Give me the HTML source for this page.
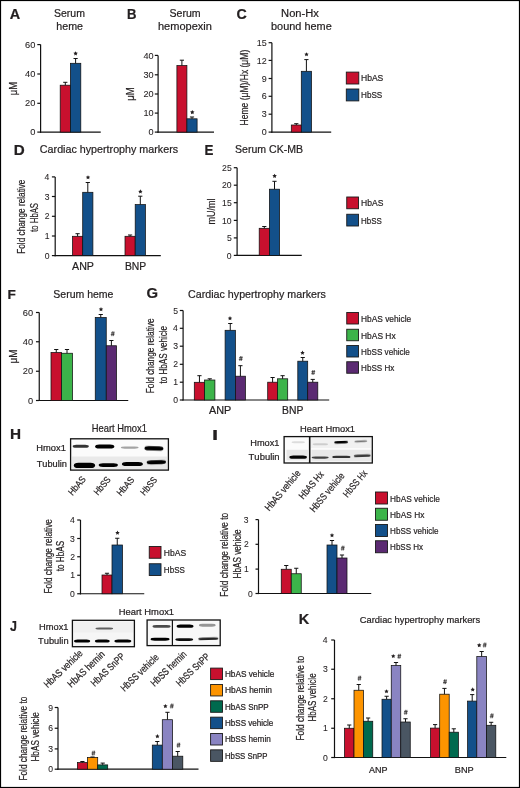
<!DOCTYPE html>
<html><head><meta charset="utf-8"><style>
html,body{margin:0;padding:0;background:#fff;overflow:hidden;width:520px;height:788px;}
svg{display:block;will-change:transform;}
text{font-family:"Liberation Sans", sans-serif;font-kerning:none;stroke:#231f20;stroke-width:0.22px;}
text.tk{stroke-width:0.08px;}
</style></head><body>
<svg width="520" height="788" viewBox="0 0 520 788">
<defs><filter id="bl" x="-30%" y="-100%" width="160%" height="300%"><feGaussianBlur stdDeviation="0.55"/></filter></defs>
<rect x="0" y="0" width="520" height="788" fill="#fff"/>
<text transform="translate(9.84,18.80)" font-size="13.81" font-weight="bold" fill="#231f20" textLength="10.44" lengthAdjust="spacingAndGlyphs">A</text>
<text transform="translate(54.02,17.00)" font-size="11.05" fill="#231f20" textLength="30.92" lengthAdjust="spacingAndGlyphs">Serum</text>
<text transform="translate(56.26,29.50)" font-size="11.38" fill="#231f20" textLength="26.72" lengthAdjust="spacingAndGlyphs">heme</text>
<line x1="40.60" y1="44.60" x2="40.60" y2="132.70" stroke="#111" stroke-width="1.2"/>
<line x1="40.00" y1="132.10" x2="100.75" y2="132.10" stroke="#111" stroke-width="1.2"/>
<line x1="37.30" y1="132.10" x2="40.60" y2="132.10" stroke="#111" stroke-width="1.2"/>
<text class="tk" transform="translate(30.20,135.24)" font-size="8.60" fill="#231f20" textLength="5.17" lengthAdjust="spacingAndGlyphs">0</text>
<line x1="37.30" y1="103.30" x2="40.60" y2="103.30" stroke="#111" stroke-width="1.2"/>
<text class="tk" transform="translate(25.03,106.44)" font-size="8.60" fill="#231f20" textLength="10.33" lengthAdjust="spacingAndGlyphs">20</text>
<line x1="37.30" y1="74.00" x2="40.60" y2="74.00" stroke="#111" stroke-width="1.2"/>
<text class="tk" transform="translate(25.03,77.14)" font-size="8.60" fill="#231f20" textLength="10.33" lengthAdjust="spacingAndGlyphs">40</text>
<line x1="37.30" y1="44.60" x2="40.60" y2="44.60" stroke="#111" stroke-width="1.2"/>
<text class="tk" transform="translate(25.03,47.74)" font-size="8.60" fill="#231f20" textLength="10.33" lengthAdjust="spacingAndGlyphs">60</text>
<rect x="60.20" y="85.20" width="10.20" height="46.90" fill="#c8102e" stroke="#111" stroke-width="0.75"/>
<line x1="65.30" y1="85.20" x2="65.30" y2="82.30" stroke="#111" stroke-width="1.0"/>
<line x1="63.20" y1="82.30" x2="67.40" y2="82.30" stroke="#111" stroke-width="1.0"/>
<rect x="70.40" y="63.30" width="10.40" height="68.80" fill="#13508a" stroke="#111" stroke-width="0.75"/>
<line x1="75.60" y1="63.30" x2="75.60" y2="58.50" stroke="#111" stroke-width="1.0"/>
<line x1="73.50" y1="58.50" x2="77.70" y2="58.50" stroke="#111" stroke-width="1.0"/>
<polygon points="75.60,51.25 76.28,52.62 77.79,52.84 76.69,53.91 76.95,55.41 75.60,54.70 74.25,55.41 74.51,53.91 73.41,52.84 74.92,52.62" fill="#231f20"/>
<text transform="translate(16.80,95.34) rotate(-90)" font-size="11.20" fill="#231f20" textLength="13.42" lengthAdjust="spacingAndGlyphs">μM</text>
<text transform="translate(127.02,18.80)" font-size="13.81" font-weight="bold" fill="#231f20" textLength="9.47" lengthAdjust="spacingAndGlyphs">B</text>
<text transform="translate(169.52,17.00)" font-size="11.05" fill="#231f20" textLength="31.18" lengthAdjust="spacingAndGlyphs">Serum</text>
<text transform="translate(157.98,29.50)" font-size="11.38" fill="#231f20" textLength="53.98" lengthAdjust="spacingAndGlyphs">hemopexin</text>
<line x1="158.10" y1="55.40" x2="158.10" y2="132.70" stroke="#111" stroke-width="1.2"/>
<line x1="157.50" y1="132.10" x2="214.00" y2="132.10" stroke="#111" stroke-width="1.2"/>
<line x1="154.80" y1="132.10" x2="158.10" y2="132.10" stroke="#111" stroke-width="1.2"/>
<text class="tk" transform="translate(148.59,135.24)" font-size="8.60" fill="#231f20" textLength="5.07" lengthAdjust="spacingAndGlyphs">0</text>
<line x1="154.80" y1="113.10" x2="158.10" y2="113.10" stroke="#111" stroke-width="1.2"/>
<text class="tk" transform="translate(143.52,116.24)" font-size="8.60" fill="#231f20" textLength="10.14" lengthAdjust="spacingAndGlyphs">10</text>
<line x1="154.80" y1="94.00" x2="158.10" y2="94.00" stroke="#111" stroke-width="1.2"/>
<text class="tk" transform="translate(143.52,97.14)" font-size="8.60" fill="#231f20" textLength="10.14" lengthAdjust="spacingAndGlyphs">20</text>
<line x1="154.80" y1="74.80" x2="158.10" y2="74.80" stroke="#111" stroke-width="1.2"/>
<text class="tk" transform="translate(143.52,77.94)" font-size="8.60" fill="#231f20" textLength="10.14" lengthAdjust="spacingAndGlyphs">30</text>
<line x1="154.80" y1="55.40" x2="158.10" y2="55.40" stroke="#111" stroke-width="1.2"/>
<text class="tk" transform="translate(143.52,58.54)" font-size="8.60" fill="#231f20" textLength="10.14" lengthAdjust="spacingAndGlyphs">40</text>
<rect x="176.90" y="65.60" width="10.00" height="66.50" fill="#c8102e" stroke="#111" stroke-width="0.75"/>
<line x1="181.90" y1="65.60" x2="181.90" y2="60.20" stroke="#111" stroke-width="1.0"/>
<line x1="179.80" y1="60.20" x2="184.00" y2="60.20" stroke="#111" stroke-width="1.0"/>
<rect x="186.90" y="118.80" width="10.20" height="13.30" fill="#13508a" stroke="#111" stroke-width="0.75"/>
<line x1="192.00" y1="118.80" x2="192.00" y2="117.00" stroke="#111" stroke-width="1.0"/>
<line x1="189.90" y1="117.00" x2="194.10" y2="117.00" stroke="#111" stroke-width="1.0"/>
<polygon points="192.30,110.00 192.98,111.37 194.49,111.59 193.39,112.66 193.65,114.16 192.30,113.45 190.95,114.16 191.21,112.66 190.11,111.59 191.62,111.37" fill="#231f20"/>
<text transform="translate(133.70,100.75) rotate(-90)" font-size="11.20" fill="#231f20" textLength="13.54" lengthAdjust="spacingAndGlyphs">μM</text>
<text transform="translate(236.62,18.90)" font-size="14.10" font-weight="bold" fill="#231f20" textLength="10.27" lengthAdjust="spacingAndGlyphs">C</text>
<text transform="translate(281.09,17.00)" font-size="11.05" fill="#231f20" textLength="37.78" lengthAdjust="spacingAndGlyphs">Non-Hx</text>
<text transform="translate(271.05,29.50)" font-size="11.38" fill="#231f20" textLength="60.69" lengthAdjust="spacingAndGlyphs">bound heme</text>
<line x1="271.90" y1="42.70" x2="271.90" y2="132.70" stroke="#111" stroke-width="1.2"/>
<line x1="271.30" y1="132.10" x2="331.20" y2="132.10" stroke="#111" stroke-width="1.2"/>
<line x1="268.60" y1="132.10" x2="271.90" y2="132.10" stroke="#111" stroke-width="1.2"/>
<text class="tk" transform="translate(261.68,135.24)" font-size="8.60" fill="#231f20" textLength="4.97" lengthAdjust="spacingAndGlyphs">0</text>
<line x1="268.60" y1="114.20" x2="271.90" y2="114.20" stroke="#111" stroke-width="1.2"/>
<text class="tk" transform="translate(261.72,117.34)" font-size="8.60" fill="#231f20" textLength="4.97" lengthAdjust="spacingAndGlyphs">3</text>
<line x1="268.60" y1="96.30" x2="271.90" y2="96.30" stroke="#111" stroke-width="1.2"/>
<text class="tk" transform="translate(261.72,99.44)" font-size="8.60" fill="#231f20" textLength="4.97" lengthAdjust="spacingAndGlyphs">6</text>
<line x1="268.60" y1="78.50" x2="271.90" y2="78.50" stroke="#111" stroke-width="1.2"/>
<text class="tk" transform="translate(261.75,81.64)" font-size="8.60" fill="#231f20" textLength="4.97" lengthAdjust="spacingAndGlyphs">9</text>
<line x1="268.60" y1="60.40" x2="271.90" y2="60.40" stroke="#111" stroke-width="1.2"/>
<text class="tk" transform="translate(256.80,63.54)" font-size="8.60" fill="#231f20" textLength="9.95" lengthAdjust="spacingAndGlyphs">12</text>
<line x1="268.60" y1="42.70" x2="271.90" y2="42.70" stroke="#111" stroke-width="1.2"/>
<text class="tk" transform="translate(256.73,45.84)" font-size="8.60" fill="#231f20" textLength="9.95" lengthAdjust="spacingAndGlyphs">15</text>
<rect x="291.30" y="125.00" width="10.00" height="7.10" fill="#c8102e" stroke="#111" stroke-width="0.75"/>
<line x1="296.30" y1="125.00" x2="296.30" y2="123.70" stroke="#111" stroke-width="1.0"/>
<line x1="294.20" y1="123.70" x2="298.40" y2="123.70" stroke="#111" stroke-width="1.0"/>
<rect x="301.30" y="71.30" width="10.20" height="60.80" fill="#13508a" stroke="#111" stroke-width="0.75"/>
<line x1="306.40" y1="71.30" x2="306.40" y2="59.60" stroke="#111" stroke-width="1.0"/>
<line x1="304.30" y1="59.60" x2="308.50" y2="59.60" stroke="#111" stroke-width="1.0"/>
<polygon points="306.50,52.15 307.18,53.52 308.69,53.74 307.59,54.81 307.85,56.31 306.50,55.60 305.15,56.31 305.41,54.81 304.31,53.74 305.82,53.52" fill="#231f20"/>
<text transform="translate(247.80,125.50) rotate(-90)" font-size="11.00" fill="#231f20" textLength="75.73" lengthAdjust="spacingAndGlyphs">Heme (μM)/Hx (μM)</text>
<rect x="346.30" y="72.10" width="12.50" height="11.90" fill="#c8102e" stroke="#1a1a1a" stroke-width="0.9"/>
<text transform="translate(361.00,81.20)" font-size="9.59" fill="#231f20" textLength="22.29" lengthAdjust="spacingAndGlyphs">HbAS</text>
<rect x="346.30" y="89.00" width="12.50" height="11.90" fill="#13508a" stroke="#1a1a1a" stroke-width="0.9"/>
<text transform="translate(361.03,98.10)" font-size="9.59" fill="#231f20" textLength="21.24" lengthAdjust="spacingAndGlyphs">HbSS</text>
<text transform="translate(13.79,154.60)" font-size="13.81" font-weight="bold" fill="#231f20" textLength="10.95" lengthAdjust="spacingAndGlyphs">D</text>
<text transform="translate(39.86,153.00)" font-size="11.34" fill="#231f20" textLength="138.23" lengthAdjust="spacingAndGlyphs">Cardiac hypertrophy markers</text>
<line x1="55.20" y1="176.90" x2="55.20" y2="256.20" stroke="#111" stroke-width="1.2"/>
<line x1="54.60" y1="255.60" x2="160.80" y2="255.60" stroke="#111" stroke-width="1.2"/>
<line x1="51.90" y1="255.60" x2="55.20" y2="255.60" stroke="#111" stroke-width="1.2"/>
<text class="tk" transform="translate(44.65,258.74)" font-size="8.60" fill="#231f20" textLength="4.78" lengthAdjust="spacingAndGlyphs">0</text>
<line x1="51.90" y1="236.00" x2="55.20" y2="236.00" stroke="#111" stroke-width="1.2"/>
<text class="tk" transform="translate(44.74,239.14)" font-size="8.60" fill="#231f20" textLength="4.78" lengthAdjust="spacingAndGlyphs">1</text>
<line x1="51.90" y1="216.30" x2="55.20" y2="216.30" stroke="#111" stroke-width="1.2"/>
<text class="tk" transform="translate(44.75,219.44)" font-size="8.60" fill="#231f20" textLength="4.78" lengthAdjust="spacingAndGlyphs">2</text>
<line x1="51.90" y1="196.50" x2="55.20" y2="196.50" stroke="#111" stroke-width="1.2"/>
<text class="tk" transform="translate(44.70,199.64)" font-size="8.60" fill="#231f20" textLength="4.78" lengthAdjust="spacingAndGlyphs">3</text>
<line x1="51.90" y1="176.90" x2="55.20" y2="176.90" stroke="#111" stroke-width="1.2"/>
<text class="tk" transform="translate(44.57,180.04)" font-size="8.60" fill="#231f20" textLength="4.78" lengthAdjust="spacingAndGlyphs">4</text>
<rect x="72.50" y="236.30" width="10.20" height="19.30" fill="#c8102e" stroke="#111" stroke-width="0.75"/>
<line x1="77.60" y1="236.30" x2="77.60" y2="233.70" stroke="#111" stroke-width="1.0"/>
<line x1="75.50" y1="233.70" x2="79.70" y2="233.70" stroke="#111" stroke-width="1.0"/>
<rect x="82.70" y="192.30" width="10.20" height="63.30" fill="#13508a" stroke="#111" stroke-width="0.75"/>
<line x1="87.80" y1="192.30" x2="87.80" y2="182.50" stroke="#111" stroke-width="1.0"/>
<line x1="85.70" y1="182.50" x2="89.90" y2="182.50" stroke="#111" stroke-width="1.0"/>
<polygon points="88.00,175.15 88.68,176.52 90.19,176.74 89.09,177.81 89.35,179.31 88.00,178.60 86.65,179.31 86.91,177.81 85.81,176.74 87.32,176.52" fill="#231f20"/>
<rect x="125.00" y="236.30" width="10.20" height="19.30" fill="#c8102e" stroke="#111" stroke-width="0.75"/>
<line x1="130.10" y1="236.30" x2="130.10" y2="235.00" stroke="#111" stroke-width="1.0"/>
<line x1="128.00" y1="235.00" x2="132.20" y2="235.00" stroke="#111" stroke-width="1.0"/>
<rect x="135.20" y="204.60" width="10.20" height="51.00" fill="#13508a" stroke="#111" stroke-width="0.75"/>
<line x1="140.30" y1="204.60" x2="140.30" y2="196.20" stroke="#111" stroke-width="1.0"/>
<line x1="138.20" y1="196.20" x2="142.40" y2="196.20" stroke="#111" stroke-width="1.0"/>
<polygon points="140.40,189.30 141.08,190.67 142.59,190.89 141.49,191.96 141.75,193.46 140.40,192.75 139.05,193.46 139.31,191.96 138.21,190.89 139.72,190.67" fill="#231f20"/>
<text transform="translate(72.03,269.80)" font-size="11.26" fill="#231f20" textLength="21.93" lengthAdjust="spacingAndGlyphs">ANP</text>
<text transform="translate(124.95,269.80)" font-size="11.26" fill="#231f20" textLength="21.30" lengthAdjust="spacingAndGlyphs">BNP</text>
<text transform="translate(25.00,253.78) rotate(-90)" font-size="11.20" fill="#231f20" textLength="74.24" lengthAdjust="spacingAndGlyphs">Fold change relative</text>
<text transform="translate(37.70,231.82) rotate(-90)" font-size="11.20" fill="#231f20" textLength="28.87" lengthAdjust="spacingAndGlyphs">to HbAS</text>
<text transform="translate(204.51,154.60)" font-size="13.81" font-weight="bold" fill="#231f20" textLength="8.92" lengthAdjust="spacingAndGlyphs">E</text>
<text transform="translate(235.02,153.00)" font-size="11.34" fill="#231f20" textLength="68.04" lengthAdjust="spacingAndGlyphs">Serum CK-MB</text>
<line x1="237.10" y1="167.70" x2="237.10" y2="256.00" stroke="#111" stroke-width="1.2"/>
<line x1="236.50" y1="255.40" x2="301.75" y2="255.40" stroke="#111" stroke-width="1.2"/>
<line x1="233.80" y1="255.40" x2="237.10" y2="255.40" stroke="#111" stroke-width="1.2"/>
<text class="tk" transform="translate(226.85,258.54)" font-size="8.60" fill="#231f20" textLength="4.78" lengthAdjust="spacingAndGlyphs">0</text>
<line x1="233.80" y1="237.90" x2="237.10" y2="237.90" stroke="#111" stroke-width="1.2"/>
<text class="tk" transform="translate(226.88,241.04)" font-size="8.60" fill="#231f20" textLength="4.78" lengthAdjust="spacingAndGlyphs">5</text>
<line x1="233.80" y1="220.40" x2="237.10" y2="220.40" stroke="#111" stroke-width="1.2"/>
<text class="tk" transform="translate(222.07,223.54)" font-size="8.60" fill="#231f20" textLength="9.57" lengthAdjust="spacingAndGlyphs">10</text>
<line x1="233.80" y1="202.70" x2="237.10" y2="202.70" stroke="#111" stroke-width="1.2"/>
<text class="tk" transform="translate(222.10,205.84)" font-size="8.60" fill="#231f20" textLength="9.57" lengthAdjust="spacingAndGlyphs">15</text>
<line x1="233.80" y1="185.20" x2="237.10" y2="185.20" stroke="#111" stroke-width="1.2"/>
<text class="tk" transform="translate(222.07,188.34)" font-size="8.60" fill="#231f20" textLength="9.57" lengthAdjust="spacingAndGlyphs">20</text>
<line x1="233.80" y1="167.70" x2="237.10" y2="167.70" stroke="#111" stroke-width="1.2"/>
<text class="tk" transform="translate(222.10,170.84)" font-size="8.60" fill="#231f20" textLength="9.57" lengthAdjust="spacingAndGlyphs">25</text>
<rect x="259.20" y="228.30" width="10.20" height="27.10" fill="#c8102e" stroke="#111" stroke-width="0.75"/>
<line x1="264.30" y1="228.30" x2="264.30" y2="226.50" stroke="#111" stroke-width="1.0"/>
<line x1="262.20" y1="226.50" x2="266.40" y2="226.50" stroke="#111" stroke-width="1.0"/>
<rect x="269.40" y="189.20" width="10.20" height="66.20" fill="#13508a" stroke="#111" stroke-width="0.75"/>
<line x1="274.50" y1="189.20" x2="274.50" y2="181.30" stroke="#111" stroke-width="1.0"/>
<line x1="272.40" y1="181.30" x2="276.60" y2="181.30" stroke="#111" stroke-width="1.0"/>
<polygon points="274.60,173.75 275.28,175.12 276.79,175.34 275.69,176.41 275.95,177.91 274.60,177.20 273.25,177.91 273.51,176.41 272.41,175.34 273.92,175.12" fill="#231f20"/>
<text transform="translate(214.90,224.50) rotate(-90)" font-size="11.30" fill="#231f20" textLength="26.10" lengthAdjust="spacingAndGlyphs">mU/ml</text>
<rect x="346.75" y="197.00" width="11.75" height="11.75" fill="#c8102e" stroke="#1a1a1a" stroke-width="0.9"/>
<text transform="translate(361.05,206.25)" font-size="9.81" fill="#231f20" textLength="22.34" lengthAdjust="spacingAndGlyphs">HbAS</text>
<rect x="346.75" y="214.25" width="11.75" height="11.75" fill="#13508a" stroke="#1a1a1a" stroke-width="0.9"/>
<text transform="translate(361.10,223.50)" font-size="9.81" fill="#231f20" textLength="20.77" lengthAdjust="spacingAndGlyphs">HbSS</text>
<text transform="translate(7.39,298.50)" font-size="13.66" font-weight="bold" fill="#231f20" textLength="8.31" lengthAdjust="spacingAndGlyphs">F</text>
<text transform="translate(53.27,298.25)" font-size="11.70" fill="#231f20" textLength="60.19" lengthAdjust="spacingAndGlyphs">Serum heme</text>
<line x1="39.25" y1="312.50" x2="39.25" y2="401.10" stroke="#111" stroke-width="1.2"/>
<line x1="38.65" y1="400.50" x2="128.25" y2="400.50" stroke="#111" stroke-width="1.2"/>
<line x1="35.95" y1="400.50" x2="39.25" y2="400.50" stroke="#111" stroke-width="1.2"/>
<text class="tk" transform="translate(28.00,403.64)" font-size="8.60" fill="#231f20" textLength="5.17" lengthAdjust="spacingAndGlyphs">0</text>
<line x1="35.95" y1="371.25" x2="39.25" y2="371.25" stroke="#111" stroke-width="1.2"/>
<text class="tk" transform="translate(22.83,374.39)" font-size="8.60" fill="#231f20" textLength="10.33" lengthAdjust="spacingAndGlyphs">20</text>
<line x1="35.95" y1="341.75" x2="39.25" y2="341.75" stroke="#111" stroke-width="1.2"/>
<text class="tk" transform="translate(22.83,344.89)" font-size="8.60" fill="#231f20" textLength="10.33" lengthAdjust="spacingAndGlyphs">40</text>
<line x1="35.95" y1="312.50" x2="39.25" y2="312.50" stroke="#111" stroke-width="1.2"/>
<text class="tk" transform="translate(22.83,315.64)" font-size="8.60" fill="#231f20" textLength="10.33" lengthAdjust="spacingAndGlyphs">60</text>
<rect x="51.00" y="352.50" width="10.50" height="48.00" fill="#c8102e" stroke="#111" stroke-width="0.75"/>
<line x1="56.25" y1="352.50" x2="56.25" y2="349.50" stroke="#111" stroke-width="1.0"/>
<line x1="54.15" y1="349.50" x2="58.35" y2="349.50" stroke="#111" stroke-width="1.0"/>
<rect x="61.50" y="353.25" width="11.00" height="47.25" fill="#3cb44a" stroke="#111" stroke-width="0.75"/>
<line x1="67.00" y1="353.25" x2="67.00" y2="349.50" stroke="#111" stroke-width="1.0"/>
<line x1="64.90" y1="349.50" x2="69.10" y2="349.50" stroke="#111" stroke-width="1.0"/>
<rect x="95.25" y="317.50" width="11.00" height="83.00" fill="#13508a" stroke="#111" stroke-width="0.75"/>
<line x1="100.75" y1="317.50" x2="100.75" y2="314.50" stroke="#111" stroke-width="1.0"/>
<line x1="98.65" y1="314.50" x2="102.85" y2="314.50" stroke="#111" stroke-width="1.0"/>
<rect x="106.25" y="345.75" width="10.25" height="54.75" fill="#5b2a72" stroke="#111" stroke-width="0.75"/>
<line x1="111.38" y1="345.75" x2="111.38" y2="340.50" stroke="#111" stroke-width="1.0"/>
<line x1="109.28" y1="340.50" x2="113.47" y2="340.50" stroke="#111" stroke-width="1.0"/>
<polygon points="101.00,307.02 101.68,308.39 103.19,308.61 102.09,309.68 102.35,311.19 101.00,310.47 99.65,311.19 99.91,309.68 98.81,308.61 100.32,308.39" fill="#231f20"/>
<path d="M111.75,336.15L112.42,331.35M113.23,336.15L113.90,331.35M111.03,332.93L114.73,332.93M110.77,334.61L114.47,334.61" stroke="#231f20" stroke-width="0.7" fill="none"/>
<text transform="translate(17.10,363.47) rotate(-90)" font-size="11.20" fill="#231f20" textLength="13.98" lengthAdjust="spacingAndGlyphs">μM</text>
<text transform="translate(146.49,297.90)" font-size="13.81" font-weight="bold" fill="#231f20" textLength="11.53" lengthAdjust="spacingAndGlyphs">G</text>
<text transform="translate(188.06,297.60)" font-size="11.34" fill="#231f20" textLength="137.83" lengthAdjust="spacingAndGlyphs">Cardiac hypertrophy markers</text>
<line x1="183.10" y1="310.50" x2="183.10" y2="400.60" stroke="#111" stroke-width="1.2"/>
<line x1="182.50" y1="400.00" x2="329.20" y2="400.00" stroke="#111" stroke-width="1.2"/>
<line x1="179.80" y1="400.00" x2="183.10" y2="400.00" stroke="#111" stroke-width="1.2"/>
<text class="tk" transform="translate(173.15,403.14)" font-size="8.60" fill="#231f20" textLength="4.78" lengthAdjust="spacingAndGlyphs">0</text>
<line x1="179.80" y1="382.20" x2="183.10" y2="382.20" stroke="#111" stroke-width="1.2"/>
<text class="tk" transform="translate(173.24,385.34)" font-size="8.60" fill="#231f20" textLength="4.78" lengthAdjust="spacingAndGlyphs">1</text>
<line x1="179.80" y1="364.30" x2="183.10" y2="364.30" stroke="#111" stroke-width="1.2"/>
<text class="tk" transform="translate(173.25,367.44)" font-size="8.60" fill="#231f20" textLength="4.78" lengthAdjust="spacingAndGlyphs">2</text>
<line x1="179.80" y1="346.20" x2="183.10" y2="346.20" stroke="#111" stroke-width="1.2"/>
<text class="tk" transform="translate(173.20,349.34)" font-size="8.60" fill="#231f20" textLength="4.78" lengthAdjust="spacingAndGlyphs">3</text>
<line x1="179.80" y1="328.30" x2="183.10" y2="328.30" stroke="#111" stroke-width="1.2"/>
<text class="tk" transform="translate(173.07,331.44)" font-size="8.60" fill="#231f20" textLength="4.78" lengthAdjust="spacingAndGlyphs">4</text>
<line x1="179.80" y1="310.50" x2="183.10" y2="310.50" stroke="#111" stroke-width="1.2"/>
<text class="tk" transform="translate(173.18,313.64)" font-size="8.60" fill="#231f20" textLength="4.78" lengthAdjust="spacingAndGlyphs">5</text>
<rect x="194.30" y="382.30" width="10.30" height="17.70" fill="#c8102e" stroke="#111" stroke-width="0.75"/>
<line x1="199.45" y1="382.30" x2="199.45" y2="375.70" stroke="#111" stroke-width="1.0"/>
<line x1="197.35" y1="375.70" x2="201.55" y2="375.70" stroke="#111" stroke-width="1.0"/>
<rect x="204.60" y="380.00" width="10.30" height="20.00" fill="#3cb44a" stroke="#111" stroke-width="0.75"/>
<line x1="209.75" y1="380.00" x2="209.75" y2="378.80" stroke="#111" stroke-width="1.0"/>
<line x1="207.65" y1="378.80" x2="211.85" y2="378.80" stroke="#111" stroke-width="1.0"/>
<rect x="225.10" y="330.30" width="10.30" height="69.70" fill="#13508a" stroke="#111" stroke-width="0.75"/>
<line x1="230.25" y1="330.30" x2="230.25" y2="323.50" stroke="#111" stroke-width="1.0"/>
<line x1="228.15" y1="323.50" x2="232.35" y2="323.50" stroke="#111" stroke-width="1.0"/>
<rect x="235.40" y="376.20" width="10.00" height="23.80" fill="#5b2a72" stroke="#111" stroke-width="0.75"/>
<line x1="240.40" y1="376.20" x2="240.40" y2="365.70" stroke="#111" stroke-width="1.0"/>
<line x1="238.30" y1="365.70" x2="242.50" y2="365.70" stroke="#111" stroke-width="1.0"/>
<polygon points="230.00,316.05 230.68,317.42 232.19,317.64 231.09,318.71 231.35,320.21 230.00,319.50 228.65,320.21 228.91,318.71 227.81,317.64 229.32,317.42" fill="#231f20"/>
<path d="M239.80,360.90L240.47,356.10M241.28,360.90L241.95,356.10M239.08,357.68L242.78,357.68M238.82,359.36L242.52,359.36" stroke="#231f20" stroke-width="0.7" fill="none"/>
<rect x="267.70" y="382.20" width="9.80" height="17.80" fill="#c8102e" stroke="#111" stroke-width="0.75"/>
<line x1="272.60" y1="382.20" x2="272.60" y2="377.50" stroke="#111" stroke-width="1.0"/>
<line x1="270.50" y1="377.50" x2="274.70" y2="377.50" stroke="#111" stroke-width="1.0"/>
<rect x="277.50" y="378.80" width="10.20" height="21.20" fill="#3cb44a" stroke="#111" stroke-width="0.75"/>
<line x1="282.60" y1="378.80" x2="282.60" y2="375.70" stroke="#111" stroke-width="1.0"/>
<line x1="280.50" y1="375.70" x2="284.70" y2="375.70" stroke="#111" stroke-width="1.0"/>
<rect x="297.80" y="361.20" width="9.90" height="38.80" fill="#13508a" stroke="#111" stroke-width="0.75"/>
<line x1="302.75" y1="361.20" x2="302.75" y2="357.50" stroke="#111" stroke-width="1.0"/>
<line x1="300.65" y1="357.50" x2="304.85" y2="357.50" stroke="#111" stroke-width="1.0"/>
<rect x="307.70" y="382.20" width="10.10" height="17.80" fill="#5b2a72" stroke="#111" stroke-width="0.75"/>
<line x1="312.75" y1="382.20" x2="312.75" y2="379.40" stroke="#111" stroke-width="1.0"/>
<line x1="310.65" y1="379.40" x2="314.85" y2="379.40" stroke="#111" stroke-width="1.0"/>
<polygon points="302.50,350.55 303.18,351.92 304.69,352.14 303.59,353.21 303.85,354.71 302.50,354.00 301.15,354.71 301.41,353.21 300.31,352.14 301.82,351.92" fill="#231f20"/>
<path d="M312.20,374.80L312.87,370.00M313.68,374.80L314.35,370.00M311.48,371.58L315.18,371.58M311.22,373.26L314.92,373.26" stroke="#231f20" stroke-width="0.7" fill="none"/>
<text transform="translate(208.98,414.10)" font-size="10.90" fill="#231f20" textLength="22.29" lengthAdjust="spacingAndGlyphs">ANP</text>
<text transform="translate(282.05,414.10)" font-size="10.90" fill="#231f20" textLength="21.30" lengthAdjust="spacingAndGlyphs">BNP</text>
<text transform="translate(153.80,393.28) rotate(-90)" font-size="11.20" fill="#231f20" textLength="74.90" lengthAdjust="spacingAndGlyphs">Fold change relative</text>
<text transform="translate(167.00,383.52) rotate(-90)" font-size="11.20" fill="#231f20" textLength="57.63" lengthAdjust="spacingAndGlyphs">to HbAS vehicle</text>
<rect x="346.75" y="312.50" width="11.75" height="11.50" fill="#c8102e" stroke="#1a1a1a" stroke-width="0.9"/>
<text transform="translate(361.07,322.00)" font-size="9.45" fill="#231f20" textLength="50.05" lengthAdjust="spacingAndGlyphs">HbAS vehicle</text>
<rect x="346.75" y="329.25" width="11.75" height="11.50" fill="#3cb44a" stroke="#1a1a1a" stroke-width="0.9"/>
<text transform="translate(361.06,338.75)" font-size="9.45" fill="#231f20" textLength="34.53" lengthAdjust="spacingAndGlyphs">HbAS Hx</text>
<rect x="346.75" y="345.50" width="11.75" height="11.50" fill="#13508a" stroke="#1a1a1a" stroke-width="0.9"/>
<text transform="translate(361.08,355.00)" font-size="9.45" fill="#231f20" textLength="48.78" lengthAdjust="spacingAndGlyphs">HbSS vehicle</text>
<rect x="346.75" y="361.75" width="11.75" height="11.50" fill="#5b2a72" stroke="#1a1a1a" stroke-width="0.9"/>
<text transform="translate(361.09,371.25)" font-size="9.45" fill="#231f20" textLength="33.25" lengthAdjust="spacingAndGlyphs">HbSS Hx</text>
<text transform="translate(9.88,438.70)" font-size="13.81" font-weight="bold" fill="#231f20" textLength="11.06" lengthAdjust="spacingAndGlyphs">H</text>
<text transform="translate(91.73,431.70)" font-size="10.03" fill="#231f20" textLength="55.12" lengthAdjust="spacingAndGlyphs">Heart Hmox1</text>
<text transform="translate(36.34,450.90)" font-size="8.72" fill="#231f20" textLength="29.52" lengthAdjust="spacingAndGlyphs">Hmox1</text>
<text transform="translate(36.69,467.10)" font-size="8.83" fill="#231f20" textLength="30.31" lengthAdjust="spacingAndGlyphs">Tubulin</text>
<rect x="70" y="438.5" width="98.7" height="32.1" fill="#fbfbfb"/>
<rect x="72" y="456.5" width="95" height="13" fill="#e9e9e9"/>
<rect x="72.70" y="444.75" width="16.10" height="3.00" rx="3.54" ry="1.50" fill="#000" fill-opacity="0.8" filter="url(#bl)"/>
<rect x="95.10" y="444.45" width="19.20" height="4.00" rx="4.22" ry="2.00" fill="#000" fill-opacity="1" filter="url(#bl)"/>
<rect x="120.80" y="446.45" width="17.80" height="2.30" rx="3.92" ry="1.15" fill="#000" fill-opacity="0.35" filter="url(#bl)"/>
<rect x="144.50" y="446.35" width="18.90" height="4.10" rx="4.16" ry="2.05" fill="#000" fill-opacity="1" filter="url(#bl)" transform="rotate(1.50 153.95 448.40)"/>
<rect x="73.80" y="462.85" width="21.30" height="5.10" rx="4.69" ry="2.55" fill="#000" fill-opacity="1" filter="url(#bl)"/>
<rect x="98.70" y="463.15" width="19.20" height="3.80" rx="4.22" ry="1.90" fill="#000" fill-opacity="1" filter="url(#bl)"/>
<rect x="121.90" y="461.95" width="21.00" height="4.10" rx="4.62" ry="2.05" fill="#000" fill-opacity="1" filter="url(#bl)"/>
<rect x="146.70" y="460.35" width="19.30" height="3.90" rx="4.25" ry="1.95" fill="#000" fill-opacity="1" filter="url(#bl)" transform="rotate(-1.50 156.35 462.30)"/>
<rect x="70.6" y="438.8" width="97.8" height="31.3" fill="none" stroke="#111" stroke-width="1.3"/>
<text transform="translate(72.51,496.12) rotate(-50)" font-size="9.40" fill="#231f20" textLength="21.57" lengthAdjust="spacingAndGlyphs">HbAS</text>
<text transform="translate(97.93,495.79) rotate(-50)" font-size="9.40" fill="#231f20" textLength="20.55" lengthAdjust="spacingAndGlyphs">HbSS</text>
<text transform="translate(121.01,496.62) rotate(-50)" font-size="9.40" fill="#231f20" textLength="21.51" lengthAdjust="spacingAndGlyphs">HbAS</text>
<text transform="translate(144.53,495.99) rotate(-50)" font-size="9.40" fill="#231f20" textLength="20.52" lengthAdjust="spacingAndGlyphs">HbSS</text>
<line x1="80.50" y1="520.00" x2="80.50" y2="594.35" stroke="#111" stroke-width="1.2"/>
<line x1="79.90" y1="593.75" x2="144.25" y2="593.75" stroke="#111" stroke-width="1.2"/>
<line x1="77.20" y1="593.75" x2="80.50" y2="593.75" stroke="#111" stroke-width="1.2"/>
<text class="tk" transform="translate(70.05,596.89)" font-size="8.60" fill="#231f20" textLength="4.78" lengthAdjust="spacingAndGlyphs">0</text>
<line x1="77.20" y1="575.25" x2="80.50" y2="575.25" stroke="#111" stroke-width="1.2"/>
<text class="tk" transform="translate(70.14,578.39)" font-size="8.60" fill="#231f20" textLength="4.78" lengthAdjust="spacingAndGlyphs">1</text>
<line x1="77.20" y1="556.75" x2="80.50" y2="556.75" stroke="#111" stroke-width="1.2"/>
<text class="tk" transform="translate(70.15,559.89)" font-size="8.60" fill="#231f20" textLength="4.78" lengthAdjust="spacingAndGlyphs">2</text>
<line x1="77.20" y1="538.50" x2="80.50" y2="538.50" stroke="#111" stroke-width="1.2"/>
<text class="tk" transform="translate(70.10,541.64)" font-size="8.60" fill="#231f20" textLength="4.78" lengthAdjust="spacingAndGlyphs">3</text>
<line x1="77.20" y1="520.00" x2="80.50" y2="520.00" stroke="#111" stroke-width="1.2"/>
<text class="tk" transform="translate(69.97,523.14)" font-size="8.60" fill="#231f20" textLength="4.78" lengthAdjust="spacingAndGlyphs">4</text>
<rect x="102.00" y="575.00" width="10.00" height="18.75" fill="#c8102e" stroke="#111" stroke-width="0.75"/>
<line x1="107.00" y1="575.00" x2="107.00" y2="573.25" stroke="#111" stroke-width="1.0"/>
<line x1="104.90" y1="573.25" x2="109.10" y2="573.25" stroke="#111" stroke-width="1.0"/>
<rect x="112.00" y="545.00" width="10.50" height="48.75" fill="#13508a" stroke="#111" stroke-width="0.75"/>
<line x1="117.25" y1="545.00" x2="117.25" y2="538.25" stroke="#111" stroke-width="1.0"/>
<line x1="115.15" y1="538.25" x2="119.35" y2="538.25" stroke="#111" stroke-width="1.0"/>
<polygon points="117.50,530.53 118.18,531.89 119.69,532.11 118.59,533.18 118.85,534.69 117.50,533.98 116.15,534.69 116.41,533.18 115.31,532.11 116.82,531.89" fill="#231f20"/>
<text transform="translate(51.70,593.48) rotate(-90)" font-size="11.20" fill="#231f20" textLength="74.34" lengthAdjust="spacingAndGlyphs">Fold change relative</text>
<text transform="translate(64.00,571.22) rotate(-90)" font-size="11.20" fill="#231f20" textLength="30.35" lengthAdjust="spacingAndGlyphs">to HbAS</text>
<rect x="149.25" y="546.50" width="11.75" height="11.75" fill="#c8102e" stroke="#1a1a1a" stroke-width="0.9"/>
<text transform="translate(163.80,555.75)" font-size="9.45" fill="#231f20" textLength="22.34" lengthAdjust="spacingAndGlyphs">HbAS</text>
<rect x="149.25" y="563.75" width="11.75" height="11.75" fill="#13508a" stroke="#1a1a1a" stroke-width="0.9"/>
<text transform="translate(163.84,573.00)" font-size="9.45" fill="#231f20" textLength="21.03" lengthAdjust="spacingAndGlyphs">HbSS</text>
<text transform="translate(212.01,439.60)" font-size="13.81" font-weight="bold" fill="#231f20" textLength="6.17" lengthAdjust="spacingAndGlyphs">I</text>
<text transform="translate(300.03,431.60)" font-size="9.88" fill="#231f20" textLength="55.02" lengthAdjust="spacingAndGlyphs">Heart Hmox1</text>
<text transform="translate(250.24,446.40)" font-size="9.45" fill="#231f20" textLength="29.21" lengthAdjust="spacingAndGlyphs">Hmox1</text>
<text transform="translate(248.59,459.60)" font-size="9.38" fill="#231f20" textLength="31.03" lengthAdjust="spacingAndGlyphs">Tubulin</text>
<rect x="283.5" y="436" width="89.2" height="27.3" fill="#fbfbfb"/>
<rect x="311" y="438" width="60" height="10" fill="#f1f1f1"/>
<rect x="286.5" y="449.8" width="21.4" height="10.6" fill="#e6e6e6"/>
<rect x="311.5" y="449.8" width="60" height="11.5" fill="#e8e8e8"/>
<rect x="291.50" y="441.35" width="13.50" height="1.90" rx="2.97" ry="0.95" fill="#000" fill-opacity="0.12" filter="url(#bl)"/>
<rect x="312.70" y="443.25" width="15.30" height="2.00" rx="3.37" ry="1.00" fill="#000" fill-opacity="0.15" filter="url(#bl)"/>
<rect x="334.10" y="441.00" width="14.00" height="2.60" rx="3.08" ry="1.30" fill="#000" fill-opacity="1" filter="url(#bl)" transform="rotate(-2.00 341.10 442.30)"/>
<rect x="354.30" y="440.40" width="13.00" height="1.90" rx="2.86" ry="0.95" fill="#000" fill-opacity="0.5" filter="url(#bl)" transform="rotate(-3.00 360.80 441.35)"/>
<rect x="289.40" y="455.60" width="17.50" height="3.10" rx="3.85" ry="1.55" fill="#000" fill-opacity="1" filter="url(#bl)"/>
<rect x="311.70" y="456.50" width="16.90" height="2.20" rx="3.72" ry="1.10" fill="#000" fill-opacity="0.72" filter="url(#bl)"/>
<rect x="332.20" y="455.70" width="18.30" height="2.40" rx="4.03" ry="1.20" fill="#000" fill-opacity="0.78" filter="url(#bl)"/>
<rect x="353.80" y="454.50" width="16.90" height="2.50" rx="3.72" ry="1.25" fill="#000" fill-opacity="0.75" filter="url(#bl)" transform="rotate(-2.00 362.25 455.75)"/>
<rect x="284.1" y="436.6" width="88.2" height="26.4" fill="none" stroke="#111" stroke-width="1.3"/>
<line x1="309.70" y1="436.60" x2="309.70" y2="463.00" stroke="#111" stroke-width="1.6"/>
<text transform="translate(269.32,511.52) rotate(-50)" font-size="9.80" fill="#231f20" textLength="49.58" lengthAdjust="spacingAndGlyphs">HbAS vehicle</text>
<text transform="translate(303.34,499.70) rotate(-50)" font-size="9.80" fill="#231f20" textLength="32.53" lengthAdjust="spacingAndGlyphs">HbAS Hx</text>
<text transform="translate(314.23,512.80) rotate(-50)" font-size="9.80" fill="#231f20" textLength="48.07" lengthAdjust="spacingAndGlyphs">HbSS vehicle</text>
<text transform="translate(347.45,497.88) rotate(-50)" font-size="9.80" fill="#231f20" textLength="31.65" lengthAdjust="spacingAndGlyphs">HbSS Hx</text>
<line x1="258.50" y1="519.60" x2="258.50" y2="594.10" stroke="#111" stroke-width="1.2"/>
<line x1="257.90" y1="593.50" x2="371.25" y2="593.50" stroke="#111" stroke-width="1.2"/>
<line x1="255.50" y1="593.50" x2="258.50" y2="593.50" stroke="#111" stroke-width="1.2"/>
<line x1="255.50" y1="569.10" x2="258.50" y2="569.10" stroke="#111" stroke-width="1.2"/>
<line x1="255.50" y1="544.30" x2="258.50" y2="544.30" stroke="#111" stroke-width="1.2"/>
<line x1="255.50" y1="519.60" x2="258.50" y2="519.60" stroke="#111" stroke-width="1.2"/>
<text class="tk" transform="translate(248.00,596.50)" font-size="8.50" fill="#231f20">0</text>
<text class="tk" transform="translate(243.89,572.10)" font-size="8.50" fill="#231f20">1</text>
<text class="tk" transform="translate(243.90,547.30)" font-size="8.50" fill="#231f20">2</text>
<text class="tk" transform="translate(243.85,522.60)" font-size="8.50" fill="#231f20">3</text>
<rect x="281.25" y="569.25" width="10.00" height="24.25" fill="#c8102e" stroke="#111" stroke-width="0.75"/>
<line x1="286.25" y1="569.25" x2="286.25" y2="565.50" stroke="#111" stroke-width="1.0"/>
<line x1="284.15" y1="565.50" x2="288.35" y2="565.50" stroke="#111" stroke-width="1.0"/>
<rect x="291.25" y="573.75" width="10.00" height="19.75" fill="#3cb44a" stroke="#111" stroke-width="0.75"/>
<line x1="296.25" y1="573.75" x2="296.25" y2="568.25" stroke="#111" stroke-width="1.0"/>
<line x1="294.15" y1="568.25" x2="298.35" y2="568.25" stroke="#111" stroke-width="1.0"/>
<rect x="327.00" y="545.00" width="10.00" height="48.50" fill="#13508a" stroke="#111" stroke-width="0.75"/>
<line x1="332.00" y1="545.00" x2="332.00" y2="540.50" stroke="#111" stroke-width="1.0"/>
<line x1="329.90" y1="540.50" x2="334.10" y2="540.50" stroke="#111" stroke-width="1.0"/>
<rect x="337.00" y="558.00" width="10.00" height="35.50" fill="#5b2a72" stroke="#111" stroke-width="0.75"/>
<line x1="342.00" y1="558.00" x2="342.00" y2="555.00" stroke="#111" stroke-width="1.0"/>
<line x1="339.90" y1="555.00" x2="344.10" y2="555.00" stroke="#111" stroke-width="1.0"/>
<polygon points="332.00,533.03 332.68,534.39 334.19,534.61 333.09,535.68 333.35,537.19 332.00,536.48 330.65,537.19 330.91,535.68 329.81,534.61 331.32,534.39" fill="#231f20"/>
<path d="M341.75,550.52L342.42,545.73M343.23,550.52L343.90,545.73M341.03,547.31L344.73,547.31M340.77,548.99L344.47,548.99" stroke="#231f20" stroke-width="0.7" fill="none"/>
<text transform="translate(227.80,596.68) rotate(-90)" font-size="11.20" fill="#231f20" textLength="83.83" lengthAdjust="spacingAndGlyphs">Fold change relative to</text>
<text transform="translate(240.90,578.47) rotate(-90)" font-size="11.20" fill="#231f20" textLength="49.14" lengthAdjust="spacingAndGlyphs">HbAS vehicle</text>
<rect x="375.50" y="492.00" width="12.00" height="12.00" fill="#c8102e" stroke="#1a1a1a" stroke-width="0.9"/>
<text transform="translate(390.07,501.50)" font-size="9.45" fill="#231f20" textLength="49.80" lengthAdjust="spacingAndGlyphs">HbAS vehicle</text>
<rect x="375.50" y="508.25" width="12.00" height="12.00" fill="#3cb44a" stroke="#1a1a1a" stroke-width="0.9"/>
<text transform="translate(390.07,517.75)" font-size="9.45" fill="#231f20" textLength="34.27" lengthAdjust="spacingAndGlyphs">HbAS Hx</text>
<rect x="375.50" y="524.50" width="12.00" height="12.00" fill="#13508a" stroke="#1a1a1a" stroke-width="0.9"/>
<text transform="translate(390.09,534.00)" font-size="9.45" fill="#231f20" textLength="48.52" lengthAdjust="spacingAndGlyphs">HbSS vehicle</text>
<rect x="375.50" y="540.75" width="12.00" height="12.00" fill="#5b2a72" stroke="#1a1a1a" stroke-width="0.9"/>
<text transform="translate(390.09,550.25)" font-size="9.45" fill="#231f20" textLength="32.99" lengthAdjust="spacingAndGlyphs">HbSS Hx</text>
<text transform="translate(10.01,630.80)" font-size="13.81" font-weight="bold" fill="#231f20" textLength="6.94" lengthAdjust="spacingAndGlyphs">J</text>
<text transform="translate(118.73,615.30)" font-size="9.45" fill="#231f20" textLength="55.33" lengthAdjust="spacingAndGlyphs">Heart Hmox1</text>
<text transform="translate(39.04,630.00)" font-size="9.30" fill="#231f20" textLength="29.42" lengthAdjust="spacingAndGlyphs">Hmox1</text>
<text transform="translate(38.09,643.70)" font-size="9.52" fill="#231f20" textLength="30.51" lengthAdjust="spacingAndGlyphs">Tubulin</text>
<rect x="72.1" y="619.9" width="62.4" height="26.8" fill="#f6f6f6"/>
<rect x="73.5" y="621.7" width="60" height="10.8" fill="#f0f0f0" filter="url(#bl)"/>
<rect x="95.50" y="627.40" width="17.60" height="2.10" rx="3.87" ry="1.05" fill="#000" fill-opacity="0.6" filter="url(#bl)"/>
<rect x="74.00" y="639.40" width="16.20" height="3.20" rx="3.56" ry="1.60" fill="#000" fill-opacity="1" filter="url(#bl)"/>
<rect x="94.90" y="639.40" width="14.80" height="3.20" rx="3.26" ry="1.60" fill="#000" fill-opacity="1" filter="url(#bl)"/>
<rect x="114.40" y="639.40" width="16.90" height="3.20" rx="3.72" ry="1.60" fill="#000" fill-opacity="1" filter="url(#bl)"/>
<rect x="72.4" y="620.3" width="62" height="26.4" fill="none" stroke="#111" stroke-width="1.3"/>
<rect x="146.5" y="619.4" width="74.3" height="26.7" fill="#f8f8f8"/>
<rect x="152.50" y="625.05" width="18.10" height="2.80" rx="3.98" ry="1.40" fill="#000" fill-opacity="0.7" filter="url(#bl)"/>
<rect x="176.60" y="624.55" width="16.90" height="3.30" rx="3.72" ry="1.65" fill="#000" fill-opacity="1" filter="url(#bl)"/>
<rect x="199.00" y="623.75" width="16.60" height="2.90" rx="3.65" ry="1.45" fill="#000" fill-opacity="0.4" filter="url(#bl)"/>
<rect x="150.60" y="637.80" width="18.90" height="2.90" rx="4.16" ry="1.45" fill="#000" fill-opacity="1" filter="url(#bl)"/>
<rect x="175.30" y="638.20" width="17.90" height="2.80" rx="3.94" ry="1.40" fill="#000" fill-opacity="0.95" filter="url(#bl)"/>
<rect x="198.20" y="637.40" width="20.20" height="2.60" rx="4.44" ry="1.30" fill="#000" fill-opacity="0.85" filter="url(#bl)" transform="rotate(-1.50 208.30 638.70)"/>
<rect x="147.1" y="620.0" width="73.1" height="25.6" fill="none" stroke="#111" stroke-width="1.3"/>
<line x1="172.40" y1="620.00" x2="172.40" y2="645.60" stroke="#111" stroke-width="1.2"/>
<text transform="translate(47.78,688.27) rotate(-44)" font-size="10.00" fill="#231f20" textLength="49.39" lengthAdjust="spacingAndGlyphs">HbAS vehicle</text>
<text transform="translate(71.36,687.98) rotate(-44)" font-size="10.00" fill="#231f20" textLength="47.40" lengthAdjust="spacingAndGlyphs">HbAS hemin</text>
<text transform="translate(94.70,686.95) rotate(-44)" font-size="10.00" fill="#231f20" textLength="42.79" lengthAdjust="spacingAndGlyphs">HbAS SnPP</text>
<text transform="translate(124.38,691.96) rotate(-44)" font-size="10.00" fill="#231f20" textLength="48.83" lengthAdjust="spacingAndGlyphs">HbSS vehicle</text>
<text transform="translate(154.38,686.96) rotate(-44)" font-size="10.00" fill="#231f20" textLength="45.80" lengthAdjust="spacingAndGlyphs">HbSS hemin</text>
<text transform="translate(179.90,686.95) rotate(-44)" font-size="10.00" fill="#231f20" textLength="42.65" lengthAdjust="spacingAndGlyphs">HbSS SnPP</text>
<line x1="58.00" y1="707.50" x2="58.00" y2="769.80" stroke="#111" stroke-width="1.2"/>
<line x1="57.40" y1="769.20" x2="198.50" y2="769.20" stroke="#111" stroke-width="1.2"/>
<line x1="54.70" y1="769.20" x2="58.00" y2="769.20" stroke="#111" stroke-width="1.2"/>
<text class="tk" transform="translate(48.15,772.34)" font-size="8.60" fill="#231f20" textLength="4.78" lengthAdjust="spacingAndGlyphs">0</text>
<line x1="54.70" y1="748.90" x2="58.00" y2="748.90" stroke="#111" stroke-width="1.2"/>
<text class="tk" transform="translate(48.20,752.04)" font-size="8.60" fill="#231f20" textLength="4.78" lengthAdjust="spacingAndGlyphs">3</text>
<line x1="54.70" y1="728.25" x2="58.00" y2="728.25" stroke="#111" stroke-width="1.2"/>
<text class="tk" transform="translate(48.20,731.39)" font-size="8.60" fill="#231f20" textLength="4.78" lengthAdjust="spacingAndGlyphs">6</text>
<line x1="54.70" y1="707.50" x2="58.00" y2="707.50" stroke="#111" stroke-width="1.2"/>
<text class="tk" transform="translate(48.22,710.64)" font-size="8.60" fill="#231f20" textLength="4.78" lengthAdjust="spacingAndGlyphs">9</text>
<rect x="77.40" y="762.60" width="10.00" height="6.60" fill="#c8102e" stroke="#111" stroke-width="0.75"/>
<line x1="82.40" y1="762.60" x2="82.40" y2="761.50" stroke="#111" stroke-width="1.0"/>
<line x1="80.30" y1="761.50" x2="84.50" y2="761.50" stroke="#111" stroke-width="1.0"/>
<rect x="87.40" y="757.40" width="10.30" height="11.80" fill="#fd9400" stroke="#111" stroke-width="0.75"/>
<line x1="92.55" y1="757.40" x2="92.55" y2="757.00" stroke="#111" stroke-width="1.0"/>
<line x1="90.45" y1="757.00" x2="94.65" y2="757.00" stroke="#111" stroke-width="1.0"/>
<rect x="97.70" y="764.90" width="10.00" height="4.30" fill="#006a4e" stroke="#111" stroke-width="0.75"/>
<line x1="102.70" y1="764.90" x2="102.70" y2="763.10" stroke="#111" stroke-width="1.0"/>
<line x1="100.60" y1="763.10" x2="104.80" y2="763.10" stroke="#111" stroke-width="1.0"/>
<rect x="152.30" y="745.10" width="10.00" height="24.10" fill="#13508a" stroke="#111" stroke-width="0.75"/>
<line x1="157.30" y1="745.10" x2="157.30" y2="741.50" stroke="#111" stroke-width="1.0"/>
<line x1="155.20" y1="741.50" x2="159.40" y2="741.50" stroke="#111" stroke-width="1.0"/>
<rect x="162.30" y="719.70" width="10.30" height="49.50" fill="#8a84c2" stroke="#111" stroke-width="0.75"/>
<line x1="167.45" y1="719.70" x2="167.45" y2="712.30" stroke="#111" stroke-width="1.0"/>
<line x1="165.35" y1="712.30" x2="169.55" y2="712.30" stroke="#111" stroke-width="1.0"/>
<rect x="172.60" y="756.20" width="10.20" height="13.00" fill="#4a5663" stroke="#111" stroke-width="0.75"/>
<line x1="177.70" y1="756.20" x2="177.70" y2="751.50" stroke="#111" stroke-width="1.0"/>
<line x1="175.60" y1="751.50" x2="179.80" y2="751.50" stroke="#111" stroke-width="1.0"/>
<path d="M92.40,755.50L93.07,750.70M93.88,755.50L94.55,750.70M91.68,752.28L95.38,752.28M91.42,753.96L95.12,753.96" stroke="#231f20" stroke-width="0.7" fill="none"/>
<polygon points="157.40,734.05 158.08,735.42 159.59,735.64 158.49,736.71 158.75,738.21 157.40,737.50 156.05,738.21 156.31,736.71 155.21,735.64 156.72,735.42" fill="#231f20"/>
<polygon points="165.40,703.95 166.08,705.32 167.59,705.54 166.49,706.61 166.75,708.11 165.40,707.40 164.05,708.11 164.31,706.61 163.21,705.54 164.72,705.32" fill="#231f20"/>
<path d="M170.80,708.40L171.47,703.60M172.28,708.40L172.95,703.60M170.08,705.18L173.78,705.18M169.82,706.86L173.52,706.86" stroke="#231f20" stroke-width="0.7" fill="none"/>
<path d="M177.50,747.50L178.17,742.70M178.98,747.50L179.65,742.70M176.78,744.28L180.48,744.28M176.52,745.96L180.22,745.96" stroke="#231f20" stroke-width="0.7" fill="none"/>
<text transform="translate(27.00,780.58) rotate(-90)" font-size="11.20" fill="#231f20" textLength="83.93" lengthAdjust="spacingAndGlyphs">Fold change relative to</text>
<text transform="translate(39.30,761.58) rotate(-90)" font-size="11.20" fill="#231f20" textLength="49.44" lengthAdjust="spacingAndGlyphs">HbAS vehicle</text>
<rect x="210.60" y="668.10" width="11.90" height="11.50" fill="#c8102e" stroke="#1a1a1a" stroke-width="0.9"/>
<text transform="translate(224.92,676.90)" font-size="8.28" fill="#231f20" textLength="49.44" lengthAdjust="spacingAndGlyphs">HbAS vehicle</text>
<rect x="210.60" y="684.45" width="11.90" height="11.50" fill="#fd9400" stroke="#1a1a1a" stroke-width="0.9"/>
<text transform="translate(224.91,693.25)" font-size="8.28" fill="#231f20" textLength="47.13" lengthAdjust="spacingAndGlyphs">HbAS hemin</text>
<rect x="210.60" y="700.80" width="11.90" height="11.50" fill="#006a4e" stroke="#1a1a1a" stroke-width="0.9"/>
<text transform="translate(224.94,709.60)" font-size="8.28" fill="#231f20" textLength="43.78" lengthAdjust="spacingAndGlyphs">HbAS SnPP</text>
<rect x="210.60" y="717.15" width="11.90" height="11.50" fill="#13508a" stroke="#1a1a1a" stroke-width="0.9"/>
<text transform="translate(224.94,725.95)" font-size="8.28" fill="#231f20" textLength="48.42" lengthAdjust="spacingAndGlyphs">HbSS vehicle</text>
<rect x="210.60" y="733.50" width="11.90" height="11.50" fill="#8a84c2" stroke="#1a1a1a" stroke-width="0.9"/>
<text transform="translate(224.93,742.30)" font-size="8.28" fill="#231f20" textLength="45.80" lengthAdjust="spacingAndGlyphs">HbSS hemin</text>
<rect x="210.60" y="749.85" width="11.90" height="11.50" fill="#4a5663" stroke="#1a1a1a" stroke-width="0.9"/>
<text transform="translate(224.96,758.65)" font-size="8.28" fill="#231f20" textLength="42.45" lengthAdjust="spacingAndGlyphs">HbSS SnPP</text>
<text transform="translate(298.73,624.20)" font-size="13.81" font-weight="bold" fill="#231f20" textLength="10.51" lengthAdjust="spacingAndGlyphs">K</text>
<text transform="translate(359.83,622.80)" font-size="9.74" fill="#231f20" textLength="120.31" lengthAdjust="spacingAndGlyphs">Cardiac hypertrophy markers</text>
<line x1="334.50" y1="640.00" x2="334.50" y2="758.10" stroke="#111" stroke-width="1.2"/>
<line x1="333.90" y1="757.50" x2="506.30" y2="757.50" stroke="#111" stroke-width="1.2"/>
<line x1="331.20" y1="757.50" x2="334.50" y2="757.50" stroke="#111" stroke-width="1.2"/>
<text class="tk" transform="translate(322.95,760.64)" font-size="8.60" fill="#231f20" textLength="4.78" lengthAdjust="spacingAndGlyphs">0</text>
<line x1="331.20" y1="728.25" x2="334.50" y2="728.25" stroke="#111" stroke-width="1.2"/>
<text class="tk" transform="translate(323.04,731.39)" font-size="8.60" fill="#231f20" textLength="4.78" lengthAdjust="spacingAndGlyphs">1</text>
<line x1="331.20" y1="698.75" x2="334.50" y2="698.75" stroke="#111" stroke-width="1.2"/>
<text class="tk" transform="translate(323.05,701.89)" font-size="8.60" fill="#231f20" textLength="4.78" lengthAdjust="spacingAndGlyphs">2</text>
<line x1="331.20" y1="669.25" x2="334.50" y2="669.25" stroke="#111" stroke-width="1.2"/>
<text class="tk" transform="translate(323.00,672.39)" font-size="8.60" fill="#231f20" textLength="4.78" lengthAdjust="spacingAndGlyphs">3</text>
<line x1="331.20" y1="640.00" x2="334.50" y2="640.00" stroke="#111" stroke-width="1.2"/>
<text class="tk" transform="translate(322.87,643.14)" font-size="8.60" fill="#231f20" textLength="4.78" lengthAdjust="spacingAndGlyphs">4</text>
<rect x="344.50" y="728.25" width="9.50" height="29.25" fill="#c8102e" stroke="#111" stroke-width="0.75"/>
<line x1="349.25" y1="728.25" x2="349.25" y2="725.00" stroke="#111" stroke-width="1.0"/>
<line x1="347.15" y1="725.00" x2="351.35" y2="725.00" stroke="#111" stroke-width="1.0"/>
<rect x="354.00" y="690.25" width="9.50" height="67.25" fill="#fd9400" stroke="#111" stroke-width="0.75"/>
<line x1="358.75" y1="690.25" x2="358.75" y2="684.50" stroke="#111" stroke-width="1.0"/>
<line x1="356.65" y1="684.50" x2="360.85" y2="684.50" stroke="#111" stroke-width="1.0"/>
<rect x="363.50" y="721.25" width="9.25" height="36.25" fill="#006a4e" stroke="#111" stroke-width="0.75"/>
<line x1="368.12" y1="721.25" x2="368.12" y2="718.00" stroke="#111" stroke-width="1.0"/>
<line x1="366.02" y1="718.00" x2="370.23" y2="718.00" stroke="#111" stroke-width="1.0"/>
<rect x="382.00" y="699.25" width="9.25" height="58.25" fill="#13508a" stroke="#111" stroke-width="0.75"/>
<line x1="386.62" y1="699.25" x2="386.62" y2="696.25" stroke="#111" stroke-width="1.0"/>
<line x1="384.52" y1="696.25" x2="388.73" y2="696.25" stroke="#111" stroke-width="1.0"/>
<rect x="391.25" y="665.50" width="9.50" height="92.00" fill="#8a84c2" stroke="#111" stroke-width="0.75"/>
<line x1="396.00" y1="665.50" x2="396.00" y2="662.50" stroke="#111" stroke-width="1.0"/>
<line x1="393.90" y1="662.50" x2="398.10" y2="662.50" stroke="#111" stroke-width="1.0"/>
<rect x="400.75" y="722.00" width="9.50" height="35.50" fill="#4a5663" stroke="#111" stroke-width="0.75"/>
<line x1="405.50" y1="722.00" x2="405.50" y2="718.75" stroke="#111" stroke-width="1.0"/>
<line x1="403.40" y1="718.75" x2="407.60" y2="718.75" stroke="#111" stroke-width="1.0"/>
<rect x="430.50" y="728.10" width="9.20" height="29.40" fill="#c8102e" stroke="#111" stroke-width="0.75"/>
<line x1="435.10" y1="728.10" x2="435.10" y2="724.60" stroke="#111" stroke-width="1.0"/>
<line x1="433.00" y1="724.60" x2="437.20" y2="724.60" stroke="#111" stroke-width="1.0"/>
<rect x="439.70" y="694.20" width="9.50" height="63.30" fill="#fd9400" stroke="#111" stroke-width="0.75"/>
<line x1="444.45" y1="694.20" x2="444.45" y2="688.40" stroke="#111" stroke-width="1.0"/>
<line x1="442.35" y1="688.40" x2="446.55" y2="688.40" stroke="#111" stroke-width="1.0"/>
<rect x="449.20" y="732.20" width="9.20" height="25.30" fill="#006a4e" stroke="#111" stroke-width="0.75"/>
<line x1="453.80" y1="732.20" x2="453.80" y2="728.80" stroke="#111" stroke-width="1.0"/>
<line x1="451.70" y1="728.80" x2="455.90" y2="728.80" stroke="#111" stroke-width="1.0"/>
<rect x="467.60" y="701.10" width="9.20" height="56.40" fill="#13508a" stroke="#111" stroke-width="0.75"/>
<line x1="472.20" y1="701.10" x2="472.20" y2="694.60" stroke="#111" stroke-width="1.0"/>
<line x1="470.10" y1="694.60" x2="474.30" y2="694.60" stroke="#111" stroke-width="1.0"/>
<rect x="476.80" y="656.50" width="9.70" height="101.00" fill="#8a84c2" stroke="#111" stroke-width="0.75"/>
<line x1="481.65" y1="656.50" x2="481.65" y2="651.50" stroke="#111" stroke-width="1.0"/>
<line x1="479.55" y1="651.50" x2="483.75" y2="651.50" stroke="#111" stroke-width="1.0"/>
<rect x="486.50" y="725.30" width="9.30" height="32.20" fill="#4a5663" stroke="#111" stroke-width="0.75"/>
<line x1="491.15" y1="725.30" x2="491.15" y2="722.30" stroke="#111" stroke-width="1.0"/>
<line x1="489.05" y1="722.30" x2="493.25" y2="722.30" stroke="#111" stroke-width="1.0"/>
<path d="M358.50,680.52L359.17,675.73M359.98,680.52L360.65,675.73M357.78,677.31L361.48,677.31M357.52,678.99L361.22,678.99" stroke="#231f20" stroke-width="0.7" fill="none"/>
<polygon points="386.50,689.15 387.18,690.52 388.69,690.74 387.59,691.81 387.85,693.31 386.50,692.60 385.15,693.31 385.41,691.81 384.31,690.74 385.82,690.52" fill="#231f20"/>
<polygon points="393.25,653.90 393.93,655.27 395.44,655.49 394.34,656.56 394.60,658.06 393.25,657.35 391.90,658.06 392.16,656.56 391.06,655.49 392.57,655.27" fill="#231f20"/>
<path d="M398.25,658.65L398.92,653.85M399.73,658.65L400.40,653.85M397.53,655.43L401.23,655.43M397.27,657.11L400.97,657.11" stroke="#231f20" stroke-width="0.7" fill="none"/>
<path d="M404.75,714.65L405.42,709.85M406.23,714.65L406.90,709.85M404.03,711.43L407.73,711.43M403.77,713.11L407.47,713.11" stroke="#231f20" stroke-width="0.7" fill="none"/>
<path d="M444.00,684.10L444.67,679.30M445.48,684.10L446.15,679.30M443.28,680.88L446.98,680.88M443.02,682.56L446.72,682.56" stroke="#231f20" stroke-width="0.7" fill="none"/>
<polygon points="472.70,687.35 473.38,688.72 474.89,688.94 473.79,690.01 474.05,691.51 472.70,690.80 471.35,691.51 471.61,690.01 470.51,688.94 472.02,688.72" fill="#231f20"/>
<polygon points="479.20,643.00 479.88,644.37 481.39,644.59 480.29,645.66 480.55,647.16 479.20,646.45 477.85,647.16 478.11,645.66 477.01,644.59 478.52,644.37" fill="#231f20"/>
<path d="M483.70,647.40L484.37,642.60M485.18,647.40L485.85,642.60M482.98,644.18L486.68,644.18M482.72,645.86L486.42,645.86" stroke="#231f20" stroke-width="0.7" fill="none"/>
<path d="M490.80,718.25L491.47,713.45M492.28,718.25L492.95,713.45M490.08,715.03L493.78,715.03M489.82,716.71L493.52,716.71" stroke="#231f20" stroke-width="0.7" fill="none"/>
<text transform="translate(368.98,773.25)" font-size="9.08" fill="#231f20" textLength="18.49" lengthAdjust="spacingAndGlyphs">ANP</text>
<text transform="translate(454.74,773.25)" font-size="9.08" fill="#231f20" textLength="18.94" lengthAdjust="spacingAndGlyphs">BNP</text>
<text transform="translate(303.80,740.59) rotate(-90)" font-size="11.20" fill="#231f20" textLength="84.69" lengthAdjust="spacingAndGlyphs">Fold change relative to</text>
<text transform="translate(316.00,721.56) rotate(-90)" font-size="11.20" fill="#231f20" textLength="48.16" lengthAdjust="spacingAndGlyphs">HbAS vehicle</text>
<rect x="0.5" y="0.5" width="519" height="787" fill="none" stroke="#000" stroke-width="1.2"/>
</svg>
</body></html>
